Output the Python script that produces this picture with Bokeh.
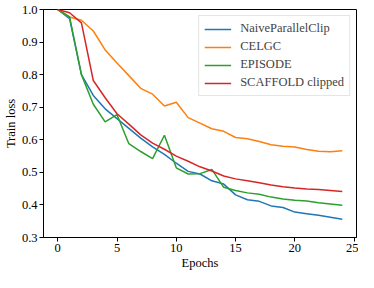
from bokeh.plotting import figure
from bokeh.models import Legend, LegendItem, FixedTicker, NumeralTickFormatter, Range1d
from bokeh.embed import file_html
from bokeh.resources import INLINE

epochs = list(range(25))
naive = [1.0, 0.972, 0.80, 0.736, 0.695, 0.665, 0.635, 0.605, 0.578, 0.555, 0.528, 0.503, 0.495, 0.474,
         0.464, 0.431, 0.416, 0.411, 0.397, 0.392, 0.378, 0.373, 0.368, 0.362, 0.356]
celgc = [1.0, 0.977, 0.967, 0.934, 0.876, 0.836, 0.797, 0.758, 0.740, 0.704, 0.715, 0.668, 0.651, 0.634,
         0.626, 0.607, 0.603, 0.595, 0.585, 0.580, 0.578, 0.570, 0.565, 0.563, 0.566]
episode = [1.0, 0.977, 0.80, 0.709, 0.655, 0.677, 0.588, 0.564, 0.542, 0.614, 0.514, 0.495, 0.496, 0.509,
           0.454, 0.444, 0.437, 0.433, 0.424, 0.418, 0.414, 0.412, 0.407, 0.403, 0.399]
scaffold = [1.0, 0.99, 0.959, 0.782, 0.729, 0.68, 0.648, 0.615, 0.59, 0.571, 0.55, 0.534, 0.517, 0.504,
            0.489, 0.48, 0.474, 0.468, 0.461, 0.456, 0.452, 0.449, 0.447, 0.444, 0.441]

series = [("NaiveParallelClip", naive, "#1f77b4"),
          ("CELGC", celgc, "#ff7f0e"),
          ("EPISODE", episode, "#2ca02c"),
          ("SCAFFOLD clipped", scaffold, "#d62728")]

FONT = "Liberation Serif"
FS = "12.5px"

p = figure(width=358, height=272, output_backend="svg", toolbar_location=None,
           x_range=Range1d(-1.2, 25.2), y_range=Range1d(0.3, 1.0),
           min_border_left=43, min_border_right=2, min_border_top=9, min_border_bottom=30)

items = []
for name, ys, col in series:
    r = p.line(epochs, ys, line_color=col, line_width=1.5)
    items.append(LegendItem(label=name, renderers=[r]))

p.xgrid.visible = False
p.ygrid.visible = False
p.outline_line_color = "black"
p.outline_line_width = 1
p.outline_line_alpha = 1

p.xaxis.ticker = FixedTicker(ticks=[0, 5, 10, 15, 20, 25])
p.yaxis.ticker = FixedTicker(ticks=[0.3, 0.4, 0.5, 0.6, 0.7, 0.8, 0.9, 1.0])
p.yaxis.formatter = NumeralTickFormatter(format="0.0")
p.xaxis.axis_label = "Epochs"
p.yaxis.axis_label = "Train loss"

for ax in (p.xaxis[0], p.yaxis[0]):
    ax.major_label_text_font = FONT
    ax.major_label_text_font_size = FS
    ax.major_label_text_color = "black"
    ax.axis_label_text_font = FONT
    ax.axis_label_text_font_size = FS
    ax.axis_label_text_font_style = "normal"
    ax.axis_label_text_color = "black"
    ax.axis_label_standoff = 1
    ax.major_label_standoff = 2
    ax.major_tick_out = 4
    ax.major_tick_in = 0
    ax.minor_tick_out = 0
    ax.minor_tick_in = 0
    ax.axis_line_color = "black"
    ax.major_tick_line_color = "black"

legend = Legend(items=items, location="top_right")
legend.label_text_font = FONT
legend.label_text_font_size = FS
legend.glyph_width = 27
legend.glyph_height = 14
legend.label_height = 14
legend.label_standoff = 9
legend.spacing = 3
legend.padding = 5
legend.margin = 6
legend.border_line_color = "#cccccc"
legend.border_line_width = 1
legend.background_fill_alpha = 0.8
p.add_layout(legend)

open("out.html", "w").write(file_html(p, INLINE))
